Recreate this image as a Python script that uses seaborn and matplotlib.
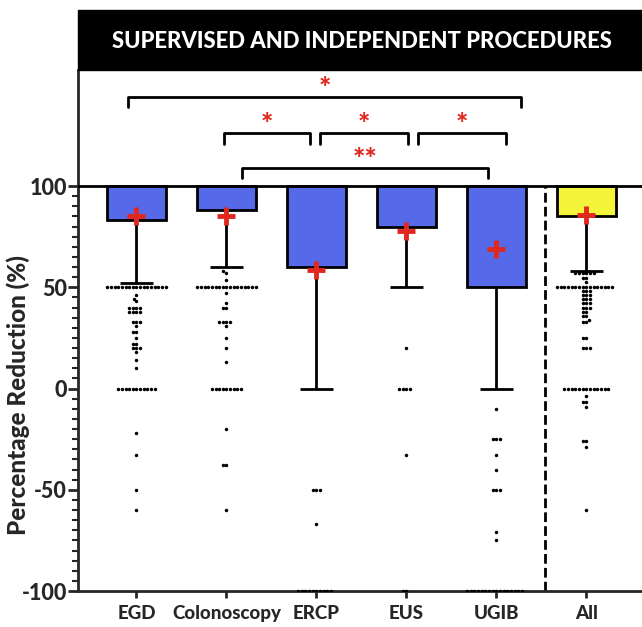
import numpy as np
import pandas as pd
import matplotlib
matplotlib.use("Agg")
import matplotlib.pyplot as plt
from matplotlib.patches import Rectangle
import seaborn as sns

groups = ['EGD', 'Colonoscopy', 'ERCP', 'EUS', 'UGIB', 'All']
box_low = [83, 88, 60, 80, 50, 85]
whisker_low = [52, 60, 0, 50, 0, 58]
means = [85, 85, 58.5, 78, 69, 85.5]
bar_colors = ['#5669E8', '#5669E8', '#5669E8', '#5669E8', '#5669E8', '#F4F43A']

# points outside the whiskers: value / how many times it shows up
egd_vals = [50, 46, 44, 43, 40, 38, 33, 31, 28, 25, 22, 20, 18, 14, 10, 0, -22, -33, -50, -60]
egd_counts = [17, 1, 1, 1, 4, 4, 3, 1, 2, 1, 2, 3, 1, 1, 1, 11, 1, 1, 1, 1]
col_vals = [58, 57, 53.5, 50, 47, 42, 40, 33, 31, 25, 20, 13, 0, -20, -38, -60]
col_counts = [1, 1, 1, 17, 1, 1, 2, 4, 1, 1, 1, 1, 9, 1, 2, 1]
ercp_vals = [-50, -67, -100]
ercp_counts = [3, 1, 10]
eus_vals = [20, 0, -33, -100]
eus_counts = [1, 4, 1, 2]
ugib_vals = [-10, -25, -33, -40, -50, -71, -75, -100]
ugib_counts = [1, 3, 1, 1, 3, 1, 1, 16]
all_vals = [57, 54.5, 52.5, 50, 48, 46, 44, 42, 40, 38, 36, 34, 33, 25, 20, 0, -3.5, -6.5, -9, -26, -29, -60]
all_counts = [6, 2, 1, 16, 3, 3, 3, 3, 3, 2, 2, 1, 2, 2, 3, 13, 1, 2, 1, 2, 1, 1]

# significance brackets
sig_labels = ['*', '*', '*', '*', '**']
br_l = [-0.09, 0.97, 2.04, 3.13, 1.17]
br_r = [4.27, 1.93, 3.02, 4.11, 3.91]
br_y = [144, 126, 126, 126, 109]

point_sets = [(egd_vals, egd_counts), (col_vals, col_counts), (ercp_vals, ercp_counts),
              (eus_vals, eus_counts), (ugib_vals, ugib_counts), (all_vals, all_counts)]
rows = []
for g, (v, c) in zip(groups, point_sets):
    for val in np.repeat(v, c):
        rows.append((g, val))
df = pd.DataFrame(rows, columns=['group', 'value'])

sns.set_style('ticks')
plt.rcParams['font.family'] = ['Lato', 'DejaVu Sans']
W = 'black'

fig = plt.figure(figsize=(6.42, 6.27), dpi=100)
ax = fig.add_axes([78 / 642, 36 / 627, 1 - 78 / 642 + 0.01, (591 - 70) / 627])

sns.swarmplot(data=df, x='group', y='value', order=groups, color='black', size=2.5,
              ax=ax, zorder=3, warn_thresh=1)

x = np.arange(len(groups))
ax.bar(x, [100 - b for b in box_low], bottom=box_low, width=0.65, color=bar_colors,
       edgecolor='black', linewidth=2, zorder=2)
ax.vlines(x, whisker_low, box_low, color='black', linewidth=2, zorder=4)
ax.hlines(whisker_low, x - 0.18, x + 0.18, color='black', linewidth=2, zorder=4)
ax.plot(x, means, linestyle='none', marker='+', color='#E0281E', markersize=13,
        markeredgewidth=3.5, zorder=5)

ax.axhline(100, color='black', linewidth=2, zorder=4)
ax.plot([4.54, 4.54], [-100, 100], color='black', linewidth=2, linestyle=(0, (3.5, 1.5)))

for l, r, y, lab in zip(br_l, br_r, br_y, sig_labels):
    ax.plot([l, l, r, r], [y - 5, y, y, y - 5], color='black', linewidth=2, clip_on=False)
    ax.text((l + r) / 2, y - 2.5, lab, color='#E0281E', ha='center', va='bottom',
            fontsize=21, fontweight=W)

ax.set_xlim(-0.65, 5.69)
ax.set_ylim(-100, 157.3)
ax.set_yticks([-100, -50, 0, 50, 100])
ax.set_yticks(np.arange(-100, 101, 5), minor=True)
ax.set_xticks(x)
ax.set_xticklabels(groups, fontsize=13.5, fontweight=W)
ax.set_yticklabels(['-100', '-50', '0', '50', '100'], fontsize=15.5, fontweight=W)
ax.set_xlabel('')
ax.set_ylabel('Percentage Reduction (%)', fontsize=17.5, fontweight=W)
ax.yaxis.set_label_coords(-0.084, 0.376)
ax.tick_params(axis='y', which='major', length=7, width=2, pad=1)
ax.tick_params(axis='y', which='minor', length=4, width=1.5)
ax.tick_params(axis='x', length=5, width=2, pad=5)
for s in ['top', 'right']:
    ax.spines[s].set_visible(False)
for s in ['left', 'bottom']:
    ax.spines[s].set_linewidth(2)

fig.patches.append(Rectangle((78 / 642, 1 - 70 / 627), 1, 60 / 627, transform=fig.transFigure,
                             color='black', zorder=0))
fig.text(0.564, 1 - 41 / 627, 'SUPERVISED AND INDEPENDENT PROCEDURES', color='white',
         fontsize=15.9, fontweight=W, ha='center', va='center')

fig.savefig('out.png', dpi=100)
